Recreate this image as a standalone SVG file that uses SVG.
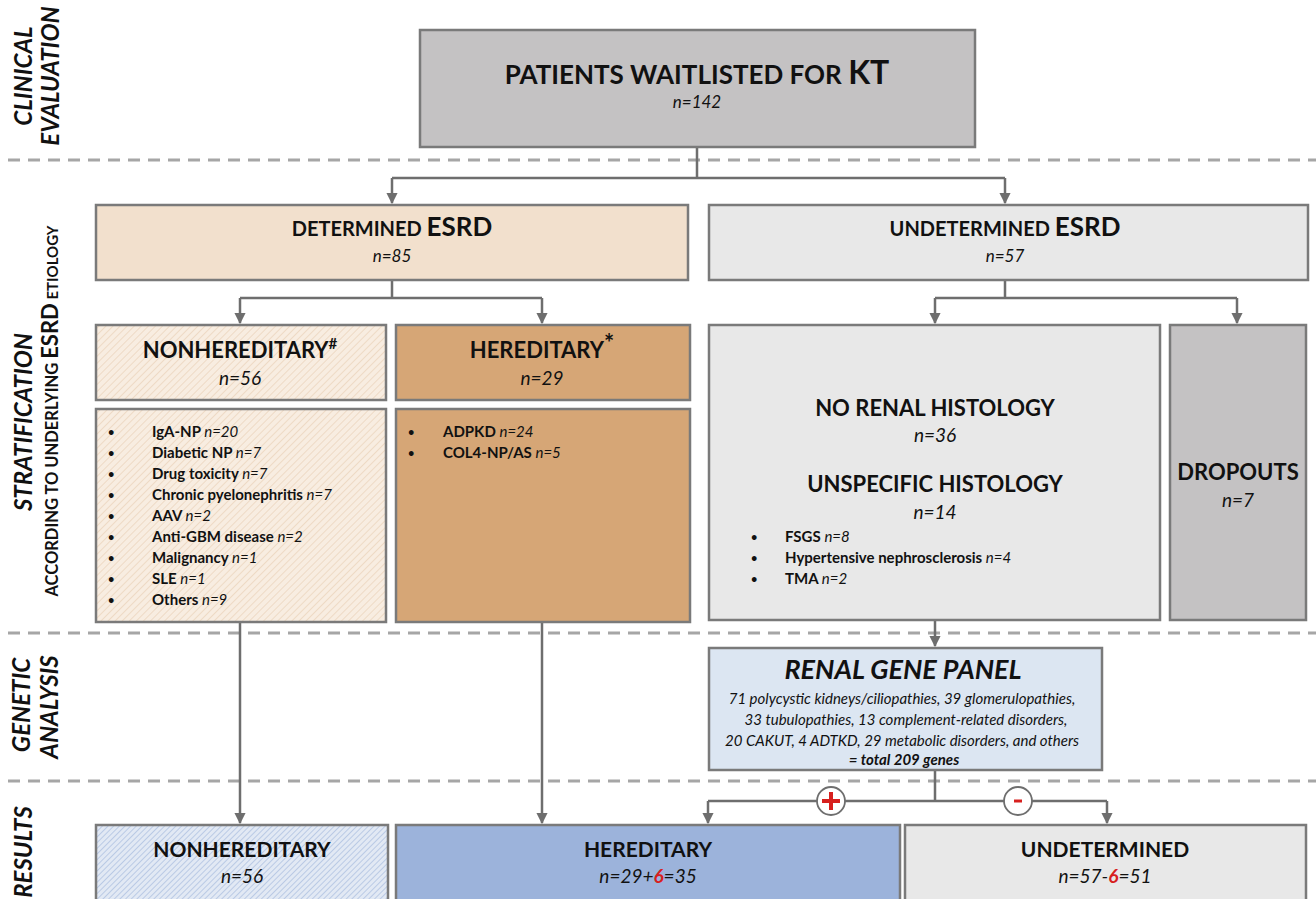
<svg xmlns="http://www.w3.org/2000/svg" width="1316" height="899" viewBox="0 0 1316 899">
<defs>
<style>
text{font-family:Lato,"Open Sans","Liberation Sans",sans-serif;fill:#111}
.box{stroke:#7a7a7a;stroke-width:2.5}
.b{font-weight:bold}
.i{font-style:italic}
.c{text-anchor:middle}
.dash{stroke:#a6a6a6;stroke-width:3;stroke-dasharray:12 8;fill:none}
.con{stroke:#6e6e6e;stroke-width:2.5;fill:none}
.lab{font-weight:bold;font-style:italic;font-size:24px;text-anchor:middle}
.li{font-size:15px;font-weight:bold}
.bu{font-size:11px}
.n{font-style:italic;font-weight:normal}
.red{fill:#d7201e;font-weight:bold}
</style>
<marker id="ah" viewBox="0 0 10 10" refX="9" refY="5" markerWidth="4.5" markerHeight="4.5" orient="auto" markerUnits="strokeWidth">
<path d="M0,0 L10,5 L0,10 z" fill="#6e6e6e"/>
</marker>
<pattern id="hatchPeach" patternUnits="userSpaceOnUse" width="5" height="5" patternTransform="rotate(45)">
<rect width="5" height="5" fill="#f8ede1"/>
<line x1="0" y1="0" x2="0" y2="5" stroke="#ebd3b9" stroke-width="1.4"/>
</pattern>
<pattern id="hatchBlue" patternUnits="userSpaceOnUse" width="4" height="4" patternTransform="rotate(45)">
<rect width="4" height="4" fill="#e2e9f4"/>
<line x1="0" y1="0" x2="0" y2="4" stroke="#a9bddf" stroke-width="1.4"/>
</pattern>
</defs>
<rect width="1316" height="899" fill="#fff"/>

<g id="section-labels">
<text class="lab" transform="translate(32,76) rotate(-90)">CLINICAL</text>
<text class="lab" transform="translate(59,76) rotate(-90)">EVALUATION</text>
<text class="lab" transform="translate(32,422) rotate(-90)">STRATIFICATION</text>
<text transform="translate(58,411) rotate(-90)" text-anchor="middle" font-weight="bold"><tspan font-size="16.5">ACCORDING TO UNDERLYING </tspan><tspan font-size="22">ESRD</tspan><tspan font-size="15"> ETIOLOGY</tspan></text>
<text class="lab" transform="translate(30,705) rotate(-90)">GENETIC</text>
<text class="lab" transform="translate(58,707) rotate(-90)">ANALYSIS</text>
<text class="lab" transform="translate(32,852) rotate(-90)">RESULTS</text>
</g>

<g id="dividers">
<line class="dash" x1="8" y1="160" x2="1316" y2="160"/>
<line class="dash" x1="8" y1="633" x2="1316" y2="633"/>
<line class="dash" x1="8" y1="781" x2="1316" y2="781"/>
</g>

<g id="connectors">
<path class="con" d="M697,147 V178 M392,178 H1005"/>
<path class="con" d="M392,178 V203" marker-end="url(#ah)"/>
<path class="con" d="M1005,178 V203" marker-end="url(#ah)"/>
<path class="con" d="M392,280 V298 M240,298 H542"/>
<path class="con" d="M240,298 V323" marker-end="url(#ah)"/>
<path class="con" d="M542,298 V323" marker-end="url(#ah)"/>
<path class="con" d="M1005,280 V298 M935,298 H1237"/>
<path class="con" d="M935,298 V323" marker-end="url(#ah)"/>
<path class="con" d="M1237,298 V323" marker-end="url(#ah)"/>
<path class="con" d="M935,620 V646" marker-end="url(#ah)"/>
<path class="con" d="M240,622 V823" marker-end="url(#ah)"/>
<path class="con" d="M542,622 V823" marker-end="url(#ah)"/>
<path class="con" d="M935,770 V801 M708,801 H1107"/>
<path class="con" d="M708,801 V823" marker-end="url(#ah)"/>
<path class="con" d="M1107,801 V823" marker-end="url(#ah)"/>
<g id="plus">
<circle cx="831" cy="801" r="14" fill="#fff" stroke="#6e6e6e" stroke-width="1.8"/>
<path d="M831,792 V810 M822,801 H840" stroke="#d7201e" stroke-width="4"/>
</g>
<g id="minus">
<circle cx="1018" cy="801" r="14" fill="#fff" stroke="#6e6e6e" stroke-width="1.8"/>
<path d="M1014,801 H1022" stroke="#d7201e" stroke-width="3"/>
</g>
</g>

<g id="node-patients">
<rect class="box" x="420" y="30" width="555" height="117" fill="#c4c2c3"/>
<text class="c b" x="697" y="84" font-size="26">PATIENTS WAITLISTED FOR <tspan font-size="32">KT</tspan></text>
<text class="c i" x="697" y="108" font-size="17">n=142</text>
</g>

<g id="node-determined">
<rect class="box" x="96" y="205" width="592" height="75" fill="#f2e0cd"/>
<text class="c b" x="392" y="236" font-size="20">DETERMINED <tspan font-size="26">ESRD</tspan></text>
<text class="c i" x="392" y="262" font-size="17">n=85</text>
</g>

<g id="node-undetermined">
<rect class="box" x="709" y="205" width="599" height="75" fill="#e8e8e8"/>
<text class="c b" x="1005" y="236" font-size="20">UNDETERMINED <tspan font-size="26">ESRD</tspan></text>
<text class="c i" x="1005" y="262" font-size="17">n=57</text>
</g>

<g id="node-nonhereditary">
<rect class="box" x="96" y="325" width="290" height="75" fill="url(#hatchPeach)"/>
<text class="c b" x="240" y="358" font-size="22">NONHEREDITARY<tspan font-size="15" dy="-9">#</tspan></text>
<text class="c i" x="240" y="385" font-size="19">n=56</text>
</g>

<g id="node-nonhereditary-list">
<rect class="box" x="96" y="409" width="290" height="213" fill="url(#hatchPeach)"/>
<g class="li">
<text class="bu" x="108" y="436">•</text><text x="152" y="437">IgA-NP <tspan class="n">n=20</tspan></text>
<text class="bu" x="108" y="457">•</text><text x="152" y="458">Diabetic NP <tspan class="n">n=7</tspan></text>
<text class="bu" x="108" y="478">•</text><text x="152" y="479">Drug toxicity <tspan class="n">n=7</tspan></text>
<text class="bu" x="108" y="499">•</text><text x="152" y="500">Chronic pyelonephritis <tspan class="n">n=7</tspan></text>
<text class="bu" x="108" y="520">•</text><text x="152" y="521">AAV <tspan class="n">n=2</tspan></text>
<text class="bu" x="108" y="541">•</text><text x="152" y="542">Anti-GBM disease <tspan class="n">n=2</tspan></text>
<text class="bu" x="108" y="562">•</text><text x="152" y="563">Malignancy <tspan class="n">n=1</tspan></text>
<text class="bu" x="108" y="583">•</text><text x="152" y="584">SLE <tspan class="n">n=1</tspan></text>
<text class="bu" x="108" y="604">•</text><text x="152" y="605">Others <tspan class="n">n=9</tspan></text>
</g>
</g>

<g id="node-hereditary">
<rect class="box" x="396" y="325" width="294" height="75" fill="#d6a676"/>
<text class="c b" x="542" y="358" font-size="22">HEREDITARY<tspan font-size="24" dy="-6">*</tspan></text>
<text class="c i" x="542" y="385" font-size="19">n=29</text>
</g>

<g id="node-hereditary-list">
<rect class="box" x="396" y="409" width="294" height="213" fill="#d6a676"/>
<g class="li">
<text class="bu" x="408" y="436">•</text><text x="443" y="437">ADPKD <tspan class="n">n=24</tspan></text>
<text class="bu" x="408" y="457">•</text><text x="443" y="458">COL4-NP/AS <tspan class="n">n=5</tspan></text>
</g>
</g>

<g id="node-histology">
<rect class="box" x="709" y="325" width="451" height="295" fill="#e8e8e8"/>
<text class="c b" x="935" y="416" font-size="22">NO RENAL HISTOLOGY</text>
<text class="c i" x="935" y="442" font-size="19">n=36</text>
<text class="c b" x="935" y="492" font-size="22">UNSPECIFIC HISTOLOGY</text>
<text class="c i" x="935" y="519" font-size="19">n=14</text>
<g class="li">
<text class="bu" x="751" y="541">•</text><text x="785" y="542">FSGS <tspan class="n">n=8</tspan></text>
<text class="bu" x="751" y="562">•</text><text x="785" y="563">Hypertensive nephrosclerosis <tspan class="n">n=4</tspan></text>
<text class="bu" x="751" y="583">•</text><text x="785" y="584">TMA <tspan class="n">n=2</tspan></text>
</g>
</g>

<g id="node-dropouts">
<rect class="box" x="1170" y="325" width="136" height="295" fill="#c4c2c3"/>
<text class="c b" x="1238" y="480" font-size="22">DROPOUTS</text>
<text class="c i" x="1238" y="507" font-size="19">n=7</text>
</g>

<g id="node-panel">
<rect class="box" x="709" y="648" width="393" height="122" fill="#dce6f2"/>
<text class="c b i" x="903" y="679" font-size="27">RENAL GENE PANEL</text>
<text class="c i" font-size="15" x="902" y="704">71 polycystic kidneys/ciliopathies, 39 glomerulopathies,</text>
<text class="c i" font-size="15" x="906" y="725">33 tubulopathies, 13 complement-related disorders,</text>
<text class="c i" font-size="15" x="902" y="746">20 CAKUT, 4 ADTKD, 29 metabolic disorders, and others</text>
<text class="c b i" font-size="15" x="904" y="765">= total 209 genes</text>
</g>

<g id="node-result-nonhereditary">
<rect class="box" x="96" y="825" width="292" height="80" fill="url(#hatchBlue)"/>
<text class="c b" x="242" y="857" font-size="21">NONHEREDITARY</text>
<text class="c i" x="242" y="883" font-size="19">n=56</text>
</g>

<g id="node-result-hereditary">
<rect class="box" x="396" y="825" width="504" height="80" fill="#9cb3db"/>
<text class="c b" x="648" y="857" font-size="21">HEREDITARY</text>
<text class="c i" x="648" y="883" font-size="19">n=29+<tspan class="red">6</tspan>=35</text>
</g>

<g id="node-result-undetermined">
<rect class="box" x="905" y="825" width="401" height="80" fill="#e8e8e8"/>
<text class="c b" x="1105" y="857" font-size="21">UNDETERMINED</text>
<text class="c i" x="1105" y="883" font-size="19">n=57-<tspan class="red">6</tspan>=51</text>
</g>
</svg>
